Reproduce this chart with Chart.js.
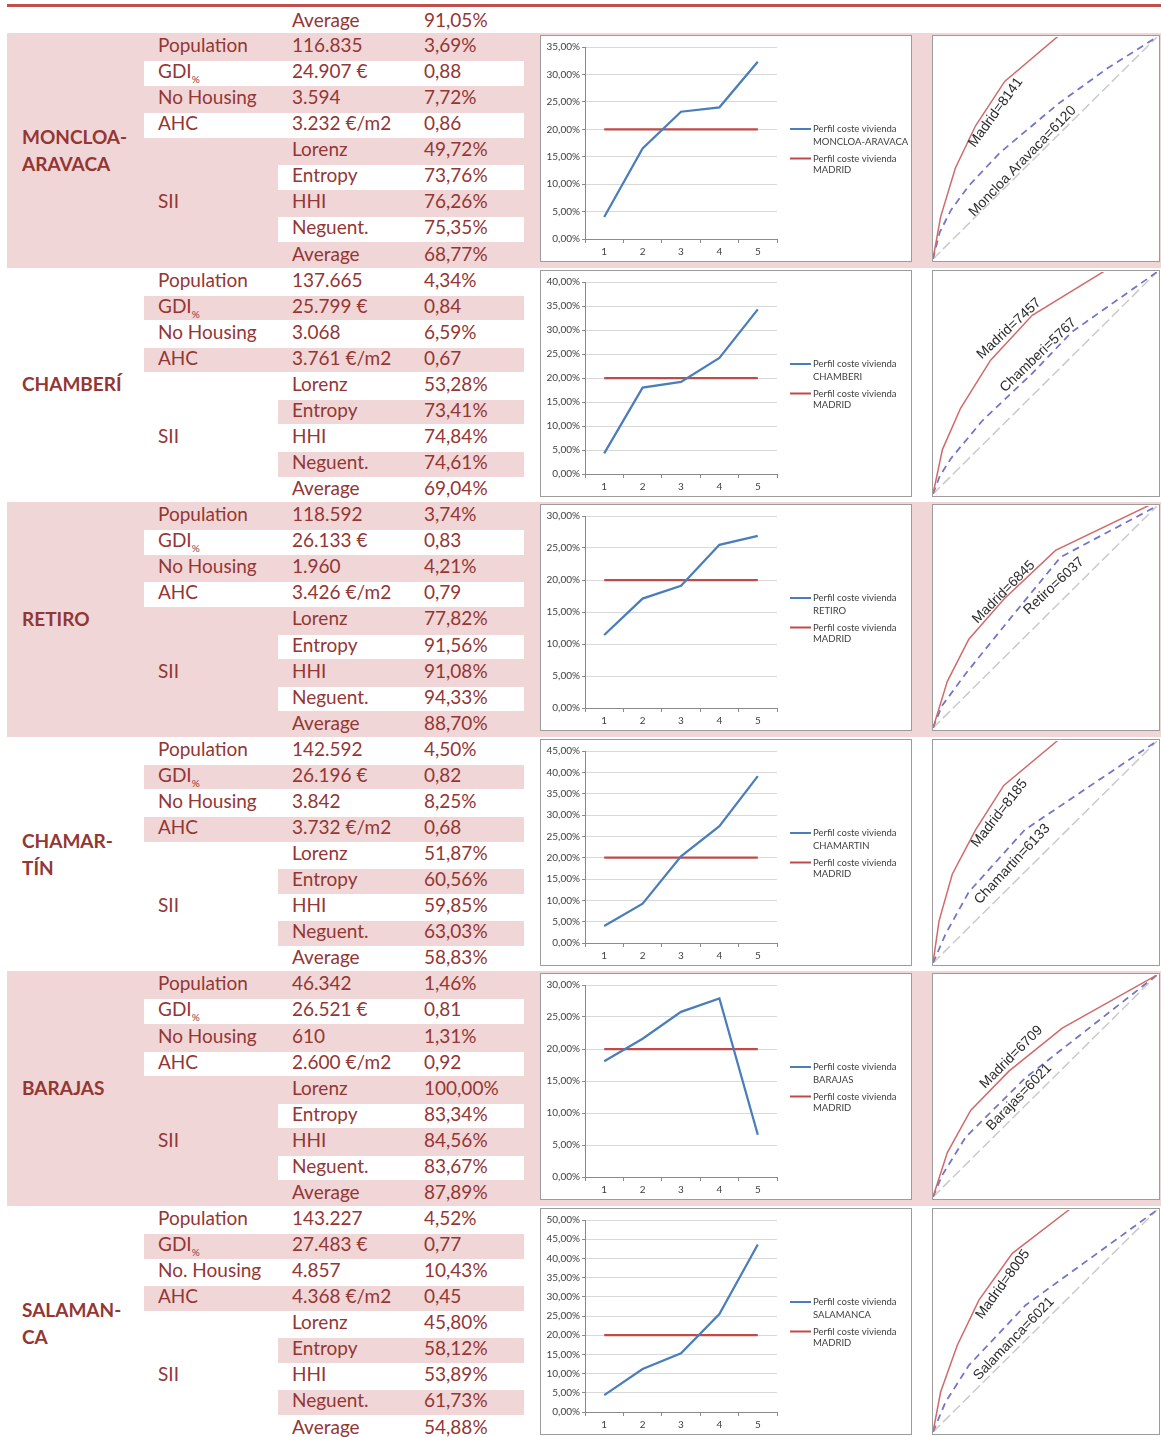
<!DOCTYPE html>
<html>
<head>
<meta charset="utf-8">
<script src="https://cdn.jsdelivr.net/npm/chart.js@4.4.1/dist/chart.umd.min.js"></script>
<style>
  html, body { margin: 0; padding: 0; background: #fff; }
  body { width: 1161px; height: 1437px; position: relative; overflow: hidden;
         font-family: Lato, "Open Sans", sans-serif; color: #943634; }
  .abs { position: absolute; }
  .txt { position: absolute; font-size: 19px; line-height: 26px; white-space: nowrap; }
  .name { position: absolute; left: 22px; font-weight: bold; font-size: 19px; line-height: 27px; white-space: nowrap; }
  .box { position: absolute; background: #fff; border: 1px solid #9c9c9c; box-sizing: border-box; }
  .box canvas { display: block; }
  .sub { font-size: 10px; position: relative; top: 5px; }
</style>
</head>
<body>
<div id="page"></div>
<script>
// ---- Table values per district ----
const districtLines   = [['MONCLOA-', 'ARAVACA'], ['CHAMBERÍ'], ['RETIRO'], ['CHAMAR-', 'TÍN'], ['BARAJAS'], ['SALAMAN-', 'CA']];
const population      = ['116.835', '137.665', '118.592', '142.592', '46.342', '143.227'];
const populationShare = ['3,69%', '4,34%', '3,74%', '4,50%', '1,46%', '4,52%'];
const gdi             = ['24.907 €', '25.799 €', '26.133 €', '26.196 €', '26.521 €', '27.483 €'];
const gdiIndex        = ['0,88', '0,84', '0,83', '0,82', '0,81', '0,77'];
const noHousingLabel  = ['No Housing', 'No Housing', 'No Housing', 'No Housing', 'No Housing', 'No. Housing'];
const noHousing       = ['3.594', '3.068', '1.960', '3.842', '610', '4.857'];
const noHousingShare  = ['7,72%', '6,59%', '4,21%', '8,25%', '1,31%', '10,43%'];
const ahc             = ['3.232 €/m2', '3.761 €/m2', '3.426 €/m2', '3.732 €/m2', '2.600 €/m2', '4.368 €/m2'];
const ahcIndex        = ['0,86', '0,67', '0,79', '0,68', '0,92', '0,45'];
const lorenz          = ['49,72%', '53,28%', '77,82%', '51,87%', '100,00%', '45,80%'];
const entropy         = ['73,76%', '73,41%', '91,56%', '60,56%', '83,34%', '58,12%'];
const hhi             = ['76,26%', '74,84%', '91,08%', '59,85%', '84,56%', '53,89%'];
const neguent         = ['75,35%', '74,61%', '94,33%', '63,03%', '83,67%', '61,73%'];
const average         = ['68,77%', '69,04%', '88,70%', '58,83%', '87,89%', '54,88%'];
const previousAverage = '91,05%';

// ---- Housing cost profile by quintile (%) ----
const quintiles        = ['1', '2', '3', '4', '5'];
const profileMoncloa   = [4.0, 16.5, 23.2, 24.0, 32.3];
const profileChamberi  = [4.3, 18.0, 19.2, 24.2, 34.3];
const profileRetiro    = [11.4, 17.1, 19.1, 25.5, 26.9];
const profileChamartin = [4.0, 9.2, 20.3, 27.4, 39.1];
const profileBarajas   = [18.1, 21.6, 25.8, 27.9, 6.6];
const profileSalamanca = [4.4, 11.2, 15.3, 25.5, 43.6];
const madridProfile    = [20, 20, 20, 20, 20];
const profileMax       = [35, 40, 30, 45, 30, 50];
const legendNames      = ['MONCLOA-ARAVACA', 'CHAMBERI', 'RETIRO', 'CHAMARTIN', 'BARAJAS', 'SALAMANCA'];

// ---- Concentration curves [x, y] ----
const equalityLine = [[0, 0], [1, 1]];
const madridCurveMoncloa     = [[0, 0], [0.034, 0.19], [0.10, 0.41], [0.19, 0.60], [0.32, 0.80], [0.56, 1.005], [1, 1.38]];
const districtCurveMoncloa   = [[0, 0], [0.03, 0.12], [0.08, 0.22], [0.16, 0.33], [0.30, 0.48], [0.56, 0.70], [0.78, 0.86], [1, 1]];
const madridCurveChamberi    = [[0, 0], [0.042, 0.20], [0.123, 0.386], [0.257, 0.603], [0.443, 0.805], [0.77, 1.007], [1, 1.15]];
const districtCurveChamberi  = [[0, 0], [0.03, 0.08], [0.08, 0.16], [0.22, 0.33], [0.44, 0.54], [0.62, 0.73], [1, 1]];
const madridCurveRetiro      = [[0, 0], [0.064, 0.21], [0.16, 0.40], [0.316, 0.58], [0.547, 0.80], [1, 1.02]];
const districtCurveRetiro    = [[0, 0], [0.04, 0.10], [0.15, 0.25], [0.35, 0.50], [0.57, 0.77], [1, 1]];
const madridCurveChamartin   = [[0, 0], [0.027, 0.19], [0.086, 0.40], [0.19, 0.60], [0.316, 0.80], [0.554, 1.0], [1, 1.3]];
const districtCurveChamartin = [[0, 0], [0.056, 0.13], [0.16, 0.32], [0.41, 0.60], [1, 1]];
const madridCurveBarajas     = [[0, 0], [0.064, 0.20], [0.168, 0.39], [0.339, 0.567], [0.577, 0.761], [1, 1.0]];
const districtCurveBarajas   = [[0, 0], [0.042, 0.10], [0.146, 0.27], [0.413, 0.537], [1, 1]];
const madridCurveSalamanca   = [[0, 0], [0.034, 0.18], [0.108, 0.39], [0.205, 0.594], [0.354, 0.805], [0.606, 1.0], [1, 1.3]];
const districtCurveSalamanca = [[0, 0], [0.056, 0.135], [0.16, 0.30], [0.413, 0.571], [1, 1]];
const madridIndex   = ['8141', '7457', '6845', '8185', '6709', '8005'];
const districtShort = ['Moncloa Aravaca', 'Chamberi', 'Retiro', 'Chamartin', 'Barajas', 'Salamanca'];
const districtIndex = ['6120', '5767', '6037', '6133', '6021', '6021'];

const profiles = [profileMoncloa, profileChamberi, profileRetiro, profileChamartin, profileBarajas, profileSalamanca];
const madridCurves = [madridCurveMoncloa, madridCurveChamberi, madridCurveRetiro, madridCurveChamartin, madridCurveBarajas, madridCurveSalamanca];
const districtCurves = [districtCurveMoncloa, districtCurveChamberi, districtCurveRetiro, districtCurveChamartin, districtCurveBarajas, districtCurveSalamanca];

// Label placement on the curve panels: [x, y, angle] for the Madrid and district captions
const curveLabelPlacement = [
  [[0.28, 0.66, -54], [0.40, 0.44, -46]],
  [[0.34, 0.745, -43], [0.47, 0.625, -44]],
  [[0.316, 0.612, -45], [0.54, 0.64, -43]],
  [[0.297, 0.674, -52], [0.354, 0.445, -47]],
  [[0.35, 0.63, -45], [0.385, 0.45, -46]],
  [[0.312, 0.665, -54], [0.361, 0.42, -46]]
];

// ---- Layout ----
const PINK = '#f0d6d6';
const BLOCK_TOP = 33, BLOCK_H = 234.6, ROW_H = 26.07;
const COL_NAME = 22, COL_LABEL = 158, COL_VALUE = 292, COL_RATIO = 424;
const page = document.getElementById('page');

function el(cls, style, html) {
  const d = document.createElement('div');
  d.className = cls;
  Object.assign(d.style, style);
  if (html !== undefined) d.innerHTML = html;
  page.appendChild(d);
  return d;
}
function text(x, y, html) { el('txt', { left: x + 'px', top: y + 'px' }, html); }

el('abs', { left: '7px', top: '4px', width: '1154px', height: '3px', background: '#c0504d' });
text(COL_VALUE, 7, 'Average');
text(COL_RATIO, 7, previousAverage);

const BLUE = '#4a7ebb', RED = '#be4b48', AXIS = '#8a8a8a', GRID = '#d9d9d9', INK = '#404040';

const profileLegend = {
  id: 'profileLegend',
  afterDraw(chart) {
    const ctx = chart.ctx, area = chart.chartArea;
    const cy = chart.height / 2;
    const x0 = area.right + 13;
    const offsets = [[-19.5, -7], [10, 21]];
    ctx.save();
    ctx.font = '9.5px Lato, sans-serif';
    ctx.textBaseline = 'middle';
    chart.data.datasets.forEach((ds, i) => {
      const lines = ds.label.replace('vivienda ', 'vivienda\n').split('\n');
      const y0 = cy + offsets[i][0];
      ctx.strokeStyle = ds.borderColor;
      ctx.lineWidth = 2;
      ctx.beginPath(); ctx.moveTo(x0, y0); ctx.lineTo(x0 + 21, y0); ctx.stroke();
      ctx.fillStyle = INK;
      lines.forEach((ln, j) => ctx.fillText(ln, x0 + 23, cy + offsets[i][j]));
    });
    ctx.restore();
  }
};

const curveLabels = {
  id: 'curveLabels',
  afterDatasetsDraw(chart, args, opts) {
    const ctx = chart.ctx, xs = chart.scales.x, ys = chart.scales.y;
    ctx.save();
    ctx.font = '14px "Liberation Sans", Arial, sans-serif';
    ctx.fillStyle = '#2b2b2b';
    ctx.textAlign = 'center';
    ctx.textBaseline = 'middle';
    opts.items.forEach(it => {
      ctx.save();
      ctx.translate(xs.getPixelForValue(it.at[0]), ys.getPixelForValue(it.at[1]));
      ctx.rotate(it.at[2] * Math.PI / 180);
      ctx.fillText(it.text, 0, 0);
      ctx.restore();
    });
    ctx.restore();
  }
};

function makeCanvas(box, w, h) {
  const c = document.createElement('canvas');
  c.width = w; c.height = h;
  c.style.width = w + 'px'; c.style.height = h + 'px';
  box.appendChild(c);
  return c;
}
const toXY = pts => pts.map(p => ({ x: p[0], y: p[1] }));

for (let k = 0; k < 6; k++) {
  const top = BLOCK_TOP + k * BLOCK_H;
  const shaded = k % 2 === 0;
  if (shaded) el('abs', { left: '7px', top: top + 'px', width: '1154px', height: BLOCK_H + 'px', background: PINK });
  const stripColor = shaded ? '#fff' : PINK;
  [[1, 144, 380], [3, 144, 380], [5, 278, 246], [7, 278, 246]].forEach(([r, x, w]) => {
    el('abs', { left: x + 'px', top: (top + r * ROW_H + 2) + 'px', width: w + 'px', height: '24.5px', background: stripColor });
  });

  const rowY = r => top + r * ROW_H - 1;
  text(COL_LABEL, rowY(0), 'Population'); text(COL_VALUE, rowY(0), population[k]); text(COL_RATIO, rowY(0), populationShare[k]);
  text(COL_LABEL, rowY(1), 'GDI<span class="sub">%</span>'); text(COL_VALUE, rowY(1), gdi[k]); text(COL_RATIO, rowY(1), gdiIndex[k]);
  text(COL_LABEL, rowY(2), noHousingLabel[k]); text(COL_VALUE, rowY(2), noHousing[k]); text(COL_RATIO, rowY(2), noHousingShare[k]);
  text(COL_LABEL, rowY(3), 'AHC'); text(COL_VALUE, rowY(3), ahc[k]); text(COL_RATIO, rowY(3), ahcIndex[k]);
  text(COL_VALUE, rowY(4), 'Lorenz'); text(COL_RATIO, rowY(4), lorenz[k]);
  text(COL_VALUE, rowY(5), 'Entropy'); text(COL_RATIO, rowY(5), entropy[k]);
  text(COL_LABEL, rowY(6), 'SII'); text(COL_VALUE, rowY(6), 'HHI'); text(COL_RATIO, rowY(6), hhi[k]);
  text(COL_VALUE, rowY(7), 'Neguent.'); text(COL_RATIO, rowY(7), neguent[k]);
  text(COL_VALUE, rowY(8), 'Average'); text(COL_RATIO, rowY(8), average[k]);

  const lines = districtLines[k];
  const nameTop = top + BLOCK_H / 2 - lines.length * 27 / 2 + (lines.length > 1 ? 0 : -1);
  el('name', { top: nameTop + 'px' }, lines.join('<br>'));

  // Housing cost profile chart
  const lineBox = el('box', { left: '540px', top: (top + 2) + 'px', width: '372px', height: '227px' });
  new Chart(makeCanvas(lineBox, 370, 225), {
    type: 'line',
    data: {
      labels: quintiles,
      datasets: [
        { label: 'Perfil coste vivienda ' + legendNames[k], data: profiles[k], borderColor: BLUE, borderWidth: 2.25, pointRadius: 0, tension: 0 },
        { label: 'Perfil coste vivienda MADRID', data: madridProfile, borderColor: RED, borderWidth: 2.25, pointRadius: 0, tension: 0 }
      ]
    },
    options: {
      responsive: false, animation: false, devicePixelRatio: 1,
      layout: { padding: { left: 0, top: 11, right: 134, bottom: 0 } },
      plugins: { legend: { display: false }, tooltip: { enabled: false } },
      scales: {
        x: {
          offset: true,
          grid: { offset: true, drawOnChartArea: false, tickLength: 4, color: AXIS },
          border: { color: AXIS },
          ticks: { font: { family: 'Lato', size: 10 }, color: INK, padding: 3, maxRotation: 0 },
          afterFit: s => { s.height = 22; }
        },
        y: {
          min: 0, max: profileMax[k],
          grid: { color: GRID, tickColor: AXIS, tickLength: 3 },
          border: { color: AXIS },
          ticks: { stepSize: 5, font: { family: 'Lato', size: 10 }, color: INK, padding: 2,
                   callback: v => v.toFixed(2).replace('.', ',') + '%' },
          afterFit: s => { s.width = 44; }
        }
      }
    },
    plugins: [profileLegend]
  });

  // Concentration curve chart
  const curveBox = el('box', { left: '932px', top: (top + 2) + 'px', width: '228px', height: '227px' });
  const place = curveLabelPlacement[k];
  new Chart(makeCanvas(curveBox, 226, 225), {
    type: 'scatter',
    data: {
      datasets: [
        { data: toXY(madridCurves[k]), borderColor: '#d06a6a', borderWidth: 1.5, showLine: true, pointRadius: 0 },
        { data: toXY(districtCurves[k]), borderColor: '#7373c8', borderWidth: 1.75, borderDash: [7, 5], showLine: true, pointRadius: 0 },
        { data: toXY(equalityLine), borderColor: '#cacaca', borderWidth: 1.5, borderDash: [10, 4], showLine: true, pointRadius: 0 }
      ]
    },
    options: {
      responsive: false, animation: false, devicePixelRatio: 1,
      layout: { padding: { left: 0, right: 2, top: 1, bottom: 2 } },
      scales: {
        x: { type: 'linear', min: 0, max: 1, display: false },
        y: { type: 'linear', min: 0, max: 1, display: false }
      },
      plugins: {
        legend: { display: false }, tooltip: { enabled: false },
        curveLabels: { items: [
          { text: 'Madrid=' + madridIndex[k], at: place[0] },
          { text: districtShort[k] + '=' + districtIndex[k], at: place[1] }
        ] }
      }
    },
    plugins: [curveLabels]
  });
}
</script>
</body>
</html>
